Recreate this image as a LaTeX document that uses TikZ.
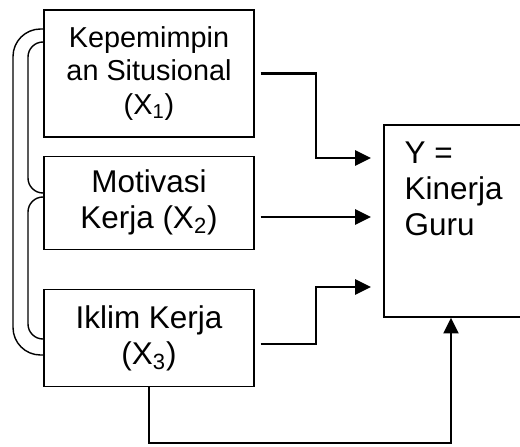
\documentclass[tikz,border=0pt]{standalone}
\usepackage{fontspec}
\setmainfont{Liberation Sans}
\usetikzlibrary{arrows.meta,positioning,calc}

\begin{document}
\begin{tikzpicture}[font=\fontsize{17.9}{20.5}\selectfont,
    var/.style={draw, line width=0.75pt, minimum width=4.2cm,
      align=center, inner sep=0pt},
    link/.style={line width=1.3pt, -{Triangle[length=9pt,width=8.5pt]}},
    pair/.style={line width=0.8pt}]
      \useasboundingbox (0,0) rectangle (10.4,-8.92);
      % Add the variables
      \node[var,
        font=\fontsize{16.4}{18.9}\selectfont,
        minimum height=2.54cm] (x1) at (2.98,-1.47) {Kepemimpin\\an Situsional\\(X\textsubscript{1})};
      \node[var,
        minimum height=1.86cm,
        below=0.36cm of x1] (x2) {Motivasi\\Kerja (X\textsubscript{2})};
      \node[var,
        minimum height=1.94cm,
        below=0.78cm of x2] (x3) {Iklim Kerja\\(X\textsubscript{3})};
      \node[draw,
        line width=0.75pt,
        minimum width=2.8cm,
        minimum height=3.84cm,
        label={[anchor=north west, align=left, inner sep=0pt,
          xshift=0.42cm, yshift=-0.34cm]north west:Y =\\Kinerja\\Guru}] (y) at (9.08,-4.42) {};
      % Entry points on the Y box
      \coordinate (in1) at (7.68,-3.16);
      \coordinate (in2) at (7.68,-4.34);
      \coordinate (in3) at (7.68,-5.74);
      \coordinate (low) at (9.02,-8.86);
      % Connect the variables with arrows
      \draw[link, shorten <=0.12cm, shorten >=0.26cm]
        (x1.east) -| ($(in1)+(-1.36,0)$) -- (in1);
      \draw[link, shorten <=0.12cm, shorten >=0.26cm]
        (x2.east |- in2) -- (in2);
      \draw[link, shorten <=0.12cm, shorten >=0.26cm]
        ($(x3.east)+(0,-0.11)$) -| ($(in3)+(-1.36,0)$) -- (in3);
      \draw[link] (x3.south) |- (low) -- (low |- y.south);
      % Correlation brackets
      \draw[pair, rounded corners=0.55cm]
        (x1.west |- 0,-0.58) -- (0.26,-0.58) -- (0.26,-7.10) -- (x3.west |- 0,-7.10);
      \draw[pair, rounded corners=0.3cm]
        (x1.west |- 0,-0.84) -- (0.56,-0.84) -- (0.56,-3.86) -- (x2.west |- 0,-3.86);
      \draw[pair, rounded corners=0.3cm]
        (x2.west |- 0,-3.94) -- (0.56,-3.94) -- (0.56,-6.78) -- (x3.west |- 0,-6.78);
    \end{tikzpicture}
\end{document}
